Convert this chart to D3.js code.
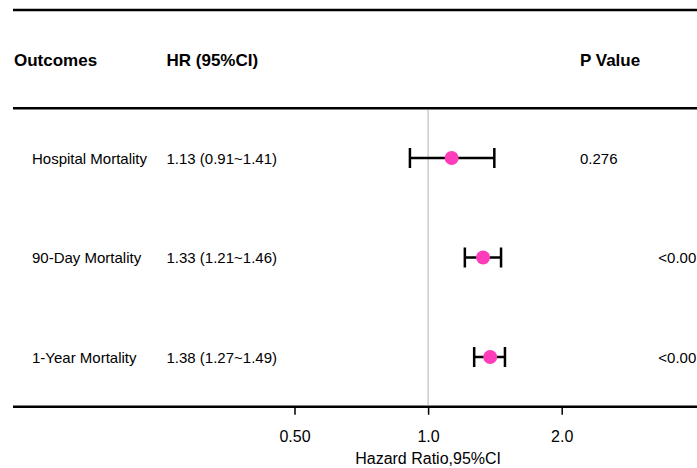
<!DOCTYPE html>
<html>
<head>
<meta charset="utf-8">
<script src="https://cdn.jsdelivr.net/npm/d3@7"></script>
<style>
  body { margin: 0; background: #fff; }
  svg { display: block; font-family: "Liberation Sans", Arial, sans-serif; }
</style>
</head>
<body>
<div id="chart"></div>
<script>
// data
const outcomes = ["Hospital Mortality", "90-Day Mortality", "1-Year Mortality"];
const hr = [1.13, 1.33, 1.38];
const lower = [0.91, 1.21, 1.27];
const upper = [1.41, 1.46, 1.49];
const pValues = ["0.276", "<0.001", "<0.001"];
const tickValues = [0.5, 1, 2];
const tickLabels = ["0.50", "1.0", "2.0"];

const width = 697, height = 468;

const svg = d3.select("#chart").append("svg")
    .attr("width", width)
    .attr("height", height);

// log scale, 1.0 sits at the reference line
const x = d3.scaleLog().base(2)
    .domain([0.5, 2])
    .range([294.5, 561.7]);

const y = d3.scalePoint()
    .domain(outcomes)
    .range([158, 357]);

const colX = { outcome: 32, hr: 166.5, p: 580 };

// horizontal rules
[10, 108.3, 406.8].forEach(yy => {
  svg.append("line")
      .attr("x1", 13).attr("x2", width)
      .attr("y1", yy).attr("y2", yy)
      .attr("stroke", "#000")
      .attr("stroke-width", 2.5);
});

// header
const header = svg.append("g")
    .attr("font-size", 17)
    .attr("font-weight", "bold");
header.append("text").attr("x", 14).attr("y", 65.5).text("Outcomes");
header.append("text").attr("x", colX.hr).attr("y", 65.5).text("HR (95%CI)");
header.append("text").attr("x", colX.p).attr("y", 65.5).text("P Value");

// reference line at HR = 1
svg.append("line")
    .attr("x1", x(1)).attr("x2", x(1))
    .attr("y1", 110).attr("y2", 405.5)
    .attr("stroke", "#b3b3b3")
    .attr("stroke-width", 1);

// rows
const rows = svg.append("g").selectAll("g")
    .data(outcomes.map((d, i) => ({ name: d, hr: hr[i], lo: lower[i], hi: upper[i], p: pValues[i] })))
    .join("g")
    .attr("transform", d => `translate(0,${y(d.name)})`);

rows.append("text")
    .attr("x", colX.outcome).attr("y", 5.5)
    .attr("font-size", 15)
    .text(d => d.name);

rows.append("text")
    .attr("x", colX.hr).attr("y", 5.5)
    .attr("font-size", 15)
    .text(d => `${d.hr.toFixed(2)} (${d.lo.toFixed(2)}~${d.hi.toFixed(2)})`);

// the <0.001 values run past the right edge, as in the original
rows.append("text")
    .attr("x", d => d.p === "0.276" ? colX.p : 658.3)
    .attr("y", 5.5)
    .attr("font-size", 15)
    .text(d => d.p);

// confidence intervals
rows.append("line")
    .attr("x1", d => x(d.lo)).attr("x2", d => x(d.hi))
    .attr("stroke", "#000").attr("stroke-width", 2.5);
rows.selectAll(".cap")
    .data(d => [d.lo, d.hi])
    .join("line")
    .attr("class", "cap")
    .attr("x1", d => x(d)).attr("x2", d => x(d))
    .attr("y1", -10).attr("y2", 10)
    .attr("stroke", "#000").attr("stroke-width", 2.5);

rows.append("circle")
    .attr("cx", d => x(d.hr))
    .attr("r", 7)
    .attr("fill", "#ff3dbb");

// x axis
const axis = svg.append("g")
    .attr("transform", "translate(0,406.8)")
    .call(d3.axisBottom(x)
      .tickValues(tickValues)
      .tickFormat((d, i) => tickLabels[i])
      .tickSize(8)
      .tickPadding(16));
axis.select(".domain").remove();
axis.selectAll(".tick line").attr("stroke", "#000").attr("stroke-width", 1.5);
axis.selectAll(".tick text")
    .attr("font-size", 16)
    .attr("font-family", "Liberation Sans, Arial, sans-serif")
    .attr("fill", "#000");

svg.append("text")
    .attr("x", x(1)).attr("y", 463.5)
    .attr("text-anchor", "middle")
    .attr("font-size", 16)
    .text("Hazard Ratio,95%CI");
</script>
</body>
</html>
